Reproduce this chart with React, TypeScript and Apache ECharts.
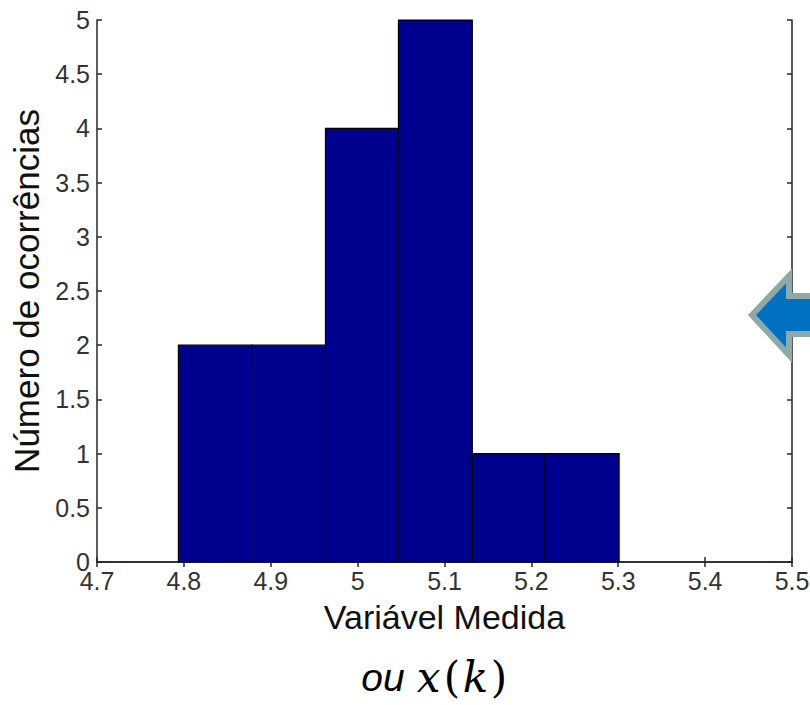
import React, { useEffect, useRef } from "react";
import * as echarts from "echarts";

const binEdges = [4.7937, 4.878, 4.963, 5.047, 5.132, 5.216, 5.301];
const counts = [2, 2, 4, 5, 1, 1];
const xTicks = { min: 4.7, max: 5.5, interval: 0.1 };
const yTicks = { min: 0, max: 5, interval: 0.5 };
const xLabel = "Variável Medida";
const yLabel = "Número de ocorrências";

export default function App() {
  const ref = useRef<HTMLDivElement>(null);
  useEffect(() => {
    if (!ref.current) return;
    const chart = echarts.init(ref.current, undefined, { renderer: "svg" });
    const data = counts.map((c, i) => [binEdges[i], binEdges[i + 1], c]);
    const axisCommon = {
      axisLine: { show: true, lineStyle: { color: "#262626", width: 1.5 } },
      axisTick: { show: true, inside: true, length: 5, lineStyle: { color: "#262626", width: 1.5 } },
      splitLine: { show: false },
    };
    const fmt = (v: number) => String(parseFloat(v.toFixed(1)));
    chart.setOption({
      animation: false,
      backgroundColor: "#ffffff",
      grid: { left: 97, right: 18, top: 20, bottom: 143, containLabel: false, outerBoundsMode: "none" },
      xAxis: [
        {
          type: "value",
          ...xTicks,
          position: "bottom",
          ...axisCommon,
          axisLabel: { formatter: fmt, color: "#333", fontSize: 25, fontFamily: "Liberation Sans, Arial", margin: 6 },
          name: xLabel,
          nameLocation: "middle",
          nameGap: 38,
          nameTextStyle: { color: "#111", fontSize: 34, fontFamily: "Liberation Sans, Arial" },
        },
        {
          type: "value",
          ...xTicks,
          position: "top",
          ...axisCommon,
          axisLabel: { show: false },
        },
      ],
      yAxis: [
        {
          type: "value",
          ...yTicks,
          position: "left",
          ...axisCommon,
          axisLabel: { formatter: fmt, color: "#333", fontSize: 25, fontFamily: "Liberation Sans, Arial", margin: 7 },
          name: yLabel,
          nameLocation: "middle",
          nameGap: 51,
          nameTextStyle: { color: "#111", fontSize: 35, fontFamily: "Liberation Sans, Arial" },
        },
        {
          type: "value",
          ...yTicks,
          position: "right",
          ...axisCommon,
          axisLabel: { show: false },
        },
      ],
      series: [
        {
          type: "custom",
          xAxisIndex: 0,
          yAxisIndex: 0,
          data,
          encode: { x: [0, 1], y: 2 },
          renderItem: (params: any, api: any) => {
            const p0 = api.coord([api.value(0), 0]);
            const p1 = api.coord([api.value(1), api.value(2)]);
            return {
              type: "rect",
              shape: { x: p0[0], y: p1[1], width: p1[0] - p0[0], height: p0[1] - p1[1] },
              style: { fill: "#00008F", stroke: "#000000", lineWidth: 1.2 },
            };
          },
        },
      ],
      graphic: [
        {
          type: "polygon",
          z: 100,
          shape: {
            points: [
              [752, 315],
              [789, 276],
              [789, 296],
              [830, 296],
              [830, 334],
              [789, 334],
              [789, 355],
            ],
          },
          style: { fill: "#0070C0", stroke: "#8FA8AA", lineWidth: 6 },
        },
        {
          type: "text",
          z: 100,
          x: 435,
          y: 677,
          style: {
            text: "{a|ou}{s| }{b|x}{c|(}{b|k}{c|)}",
            align: "center",
            verticalAlign: "middle",
            rich: {
              a: { fontSize: 39, width: 40, align: "center", fontStyle: "italic", fontFamily: "Liberation Sans, Arial", fill: "#000" },
              s: { fontSize: 39, width: 10, fontFamily: "Liberation Sans, Arial" },
              b: { fontSize: 42, width: 31, align: "center", fontStyle: "italic", fontFamily: "DejaVu Serif, serif", fill: "#000" },
              c: { fontSize: 42, width: 16, align: "center", fontFamily: "DejaVu Serif, serif", fill: "#000" },
            },
          },
        },
      ],
    });
    return () => chart.dispose();
  }, []);
  return <div ref={ref} style={{ position: "fixed", left: 0, top: 0, width: 810, height: 705 }} />;
}
